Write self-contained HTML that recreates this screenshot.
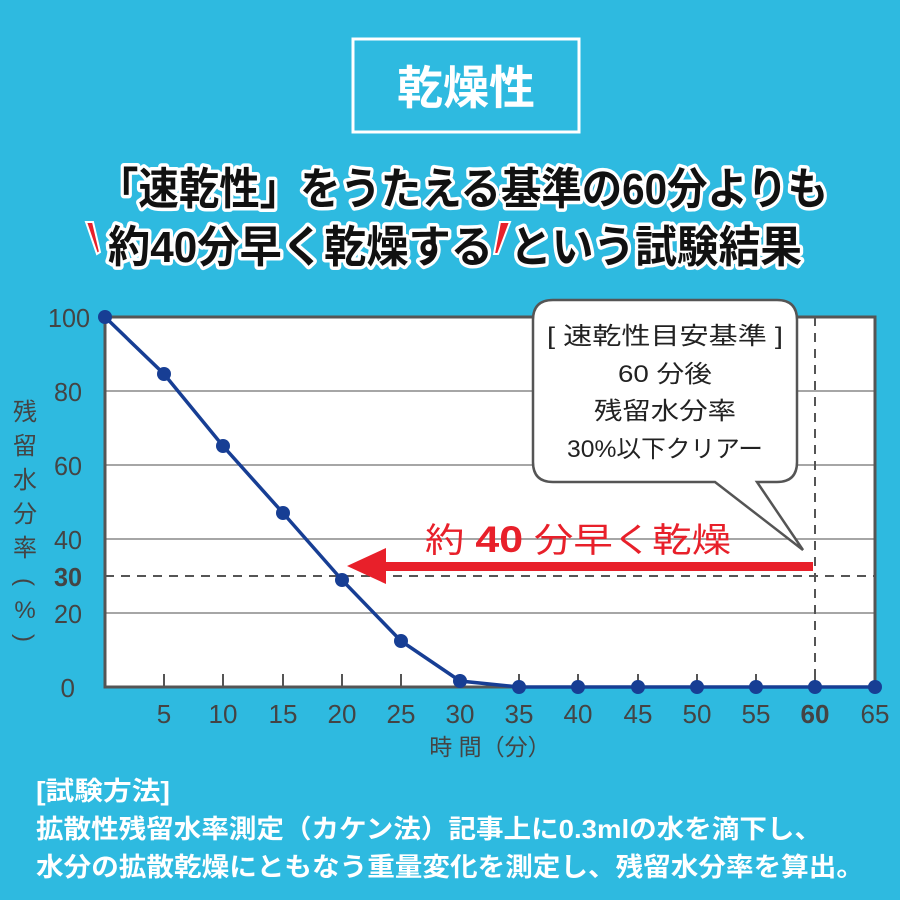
<!DOCTYPE html>
<html><head><meta charset="utf-8"><style>
html,body{margin:0;padding:0;background:#2EBAE0;}
svg{display:block;}
text{font-family:"Liberation Sans","Noto Sans CJK JP",sans-serif;}
</style></head><body>
<svg width="900" height="900" viewBox="0 0 900 900" xmlns="http://www.w3.org/2000/svg">
<rect width="900" height="900" fill="#2EBAE0"/>
<rect x="353" y="39" width="226" height="93" fill="none" stroke="#fff" stroke-width="3"/>
<text x="466" y="104" text-anchor="middle" font-size="46" font-weight="bold" fill="#fff">乾燥性</text>
<g font-size="44" font-weight="bold" fill="#111" stroke="#fff" stroke-width="7" paint-order="stroke" stroke-linejoin="round">
<text x="98" y="204" textLength="730" lengthAdjust="spacingAndGlyphs">「速乾性」をうたえる基準の60分よりも</text>
<text x="108" y="262" textLength="385" lengthAdjust="spacingAndGlyphs">約40分早く乾燥する</text>
<text x="510" y="262" textLength="292" lengthAdjust="spacingAndGlyphs">という試験結果</text>
</g>
<polygon points="86,222 93,222 100,252 97,254" fill="#E8202A" stroke="#fff" stroke-width="2"/>
<polygon points="500,222 510,222 498,254 494,254" fill="#E8202A" stroke="#fff" stroke-width="2"/>
<rect x="105" y="317" width="770" height="370" fill="#fff"/>
<g stroke="#888" stroke-width="1.5">
<line x1="105" y1="391" x2="875" y2="391"/>
<line x1="105" y1="465" x2="875" y2="465"/>
<line x1="105" y1="539" x2="875" y2="539"/>
<line x1="105" y1="613" x2="875" y2="613"/>
</g>
<line x1="105" y1="576" x2="875" y2="576" stroke="#555" stroke-width="2" stroke-dasharray="9,7"/>
<line x1="815" y1="317" x2="815" y2="687" stroke="#555" stroke-width="2" stroke-dasharray="9,7"/>
<rect x="105" y="317" width="770" height="370" fill="none" stroke="#555" stroke-width="3"/>
<g stroke="#555" stroke-width="2">
<line x1="164" y1="674" x2="164" y2="687"/><line x1="223" y1="674" x2="223" y2="687"/>
<line x1="283" y1="674" x2="283" y2="687"/><line x1="342" y1="674" x2="342" y2="687"/>
<line x1="401" y1="674" x2="401" y2="687"/><line x1="460" y1="674" x2="460" y2="687"/>
<line x1="519" y1="674" x2="519" y2="687"/><line x1="578" y1="674" x2="578" y2="687"/>
<line x1="638" y1="674" x2="638" y2="687"/><line x1="697" y1="674" x2="697" y2="687"/>
<line x1="756" y1="674" x2="756" y2="687"/><line x1="815" y1="674" x2="815" y2="687"/>
</g>
<path d="M553,300 H777 Q797,300 797,320 V462 Q797,482 777,482 H757 L803,550 L715,482 H553 Q533,482 533,462 V320 Q533,300 553,300 Z" fill="#fff" stroke="#555" stroke-width="2.5"/>
<g font-size="24" fill="#222" text-anchor="middle">
<text x="665" y="344" textLength="236" lengthAdjust="spacingAndGlyphs">[ 速乾性目安基準 ]</text>
<text x="665" y="382" textLength="94" lengthAdjust="spacingAndGlyphs">60 分後</text>
<text x="665" y="419" textLength="142" lengthAdjust="spacingAndGlyphs">残留水分率</text>
<text x="665" y="457" textLength="196" lengthAdjust="spacingAndGlyphs">30%以下クリアー</text>
</g>
<rect x="380" y="562" width="433" height="9" fill="#E8202A"/>
<polygon points="347,566 386,548 386,584" fill="#E8202A"/>
<text x="425" y="552" font-size="34" fill="#E8202A" textLength="306" lengthAdjust="spacingAndGlyphs">約 <tspan font-weight="bold" font-size="37">40</tspan> 分早く乾燥</text>
<polyline points="105,317 164,374 223,446 283,513 342,580 401,641 460,681 519,687 578,687 638,687 697,687 756,687 815,687 875,687" fill="none" stroke="#173E94" stroke-width="3.5"/>
<g fill="#173E94">
<circle cx="105" cy="317" r="7"/><circle cx="164" cy="374" r="7"/><circle cx="223" cy="446" r="7"/>
<circle cx="283" cy="513" r="7"/><circle cx="342" cy="580" r="7"/><circle cx="401" cy="641" r="7"/>
<circle cx="460" cy="681" r="7"/><circle cx="519" cy="687" r="7"/><circle cx="578" cy="687" r="7"/>
<circle cx="638" cy="687" r="7"/><circle cx="697" cy="687" r="7"/><circle cx="756" cy="687" r="7"/>
<circle cx="815" cy="687" r="7"/><circle cx="875" cy="687" r="7"/>
</g>
<g font-size="26" fill="#444" text-anchor="end">
<text x="90" y="327" textLength="42" lengthAdjust="spacingAndGlyphs">100</text>
<text x="82" y="401" textLength="28" lengthAdjust="spacingAndGlyphs">80</text>
<text x="82" y="475" textLength="28" lengthAdjust="spacingAndGlyphs">60</text>
<text x="82" y="549" textLength="28" lengthAdjust="spacingAndGlyphs">40</text>
<text x="82" y="586" font-weight="bold" textLength="28" lengthAdjust="spacingAndGlyphs">30</text>
<text x="82" y="623" textLength="28" lengthAdjust="spacingAndGlyphs">20</text>
<text x="75" y="697">0</text>
</g>
<g font-size="24" fill="#444" text-anchor="middle">
<text x="25" y="420">残</text><text x="25" y="454">留</text><text x="25" y="488">水</text>
<text x="25" y="522">分</text><text x="25" y="556">率</text>
<text x="25" y="590" transform="rotate(90 25 582)">(</text>
<text x="25" y="618">%</text>
<text x="25" y="646" transform="rotate(90 25 638)">)</text>
</g>
<g font-size="26" fill="#444" text-anchor="middle">
<text x="164" y="723">5</text><text x="223" y="723">10</text><text x="283" y="723">15</text>
<text x="342" y="723">20</text><text x="401" y="723">25</text><text x="460" y="723">30</text>
<text x="519" y="723">35</text><text x="578" y="723">40</text><text x="638" y="723">45</text>
<text x="697" y="723">50</text><text x="756" y="723">55</text><text x="815" y="723" font-weight="bold">60</text>
<text x="875" y="723">65</text>
<text x="490" y="755" font-size="23">時 間（分）</text>
</g>
<g font-size="26" font-weight="bold" fill="#fff">
<text x="36" y="800" textLength="134" lengthAdjust="spacingAndGlyphs">[試験方法]</text>
<text x="36" y="838" textLength="786" lengthAdjust="spacingAndGlyphs">拡散性残留水率測定（カケン法）記事上に0.3mlの水を滴下し、</text>
<text x="36" y="876" textLength="828" lengthAdjust="spacingAndGlyphs">水分の拡散乾燥にともなう重量変化を測定し、残留水分率を算出。</text>
</g>
</svg>
</body></html>
